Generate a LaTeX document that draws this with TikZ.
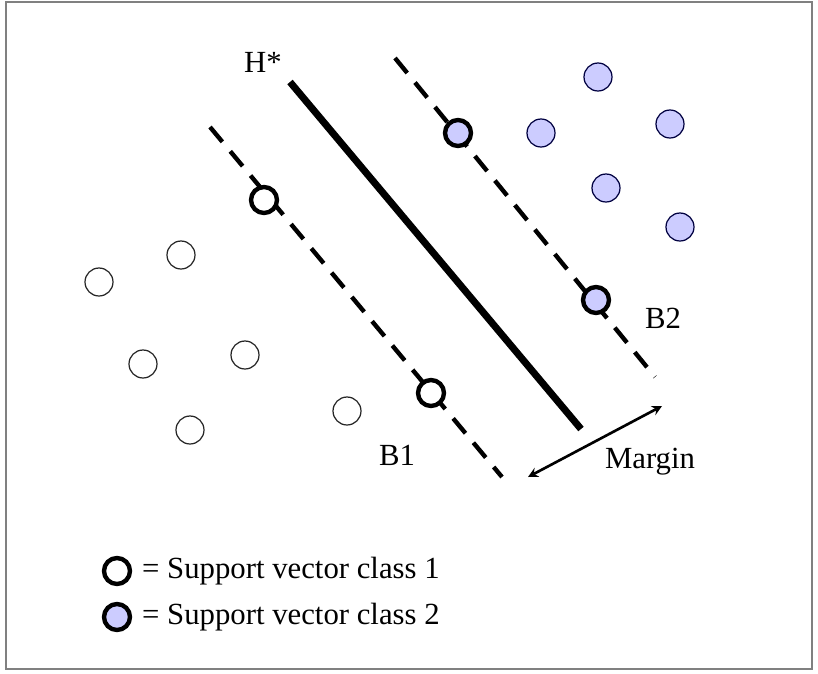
\documentclass[tikz,border=0pt]{standalone}
\usepackage{fontspec}
\setmainfont{Liberation Serif}
\definecolor{lavender}{RGB}{204,204,255}
\tikzset{
  pt/.style={circle,draw=black!85,line width=0.7pt,inner sep=0pt,minimum size=0.56cm},
  ptone/.style={pt,fill=white},
  pttwo/.style={pt,fill=lavender,draw=black!75!blue},
  svone/.style={pt,fill=white,line width=2.5pt,minimum size=0.52cm,draw=black},
  svtwo/.style={svone,fill=lavender},
  bound/.style={line width=2.5pt,dash pattern=on 11pt off 7pt},
}
\begin{document}
\begin{tikzpicture}[x=0.02cm,y=-0.02cm,font=\fontsize{17.5}{21}\selectfont]
\useasboundingbox (0,0) rectangle (818,673);
\draw[gray,line width=0.8pt] (6,2) rectangle (812,669);
% ends of the three lines
\coordinate (hs) at (290,82);
\coordinate (he) at (581,429);
\coordinate (b1s) at (210,127);
\coordinate (b1e) at (502,477);
\coordinate (b2s) at (395,58);
\coordinate (b2e) at (655,377);
\draw[line width=4pt] (hs) -- (he);
\draw[bound] (b1s) -- (b1e);
\draw[bound] (b2s) -- (b2e);
% class 1
\node[ptone] (p1) at (99,282) {};
\node[ptone] (p2) at (181,255) {};
\node[ptone] (p3) at (143,364) {};
\node[ptone] (p4) at (245,355) {};
\node[ptone] (p5) at (190,430) {};
\node[ptone] (p6) at (347,411) {};
\node[svone] (s1) at (264,200) {};
\node[svone] (s2) at (431,393) {};
% class 2
\node[pttwo] (q1) at (598,77) {};
\node[pttwo] (q2) at (541,133) {};
\node[pttwo] (q3) at (670,124) {};
\node[pttwo] (q4) at (606,188) {};
\node[pttwo] (q5) at (680,227) {};
\node[svtwo] (s3) at (458,133) {};
\node[svtwo] (s4) at (596,300) {};
% labels
\node (hlab) at (263,62) {H*};
\node (b1lab) at (397,455) {B1};
\node (b2lab) at (663,318) {B2};
\node (mlab) at (650,462) {Margin};
\coordinate (ma) at (528,477);
\coordinate (mb) at (662,406);
\draw[<->,>=stealth,line width=1.5pt] (ma) -- (mb);
% legend
\node[svone] (l1) at (117,571) {};
\node[svtwo] (l2) at (117,617) {};
\node[anchor=west] (t1) at (136,571) {= Support vector class 1};
\node[anchor=west] (t2) at (136,617) {= Support vector class 2};
\end{tikzpicture}
\end{document}
